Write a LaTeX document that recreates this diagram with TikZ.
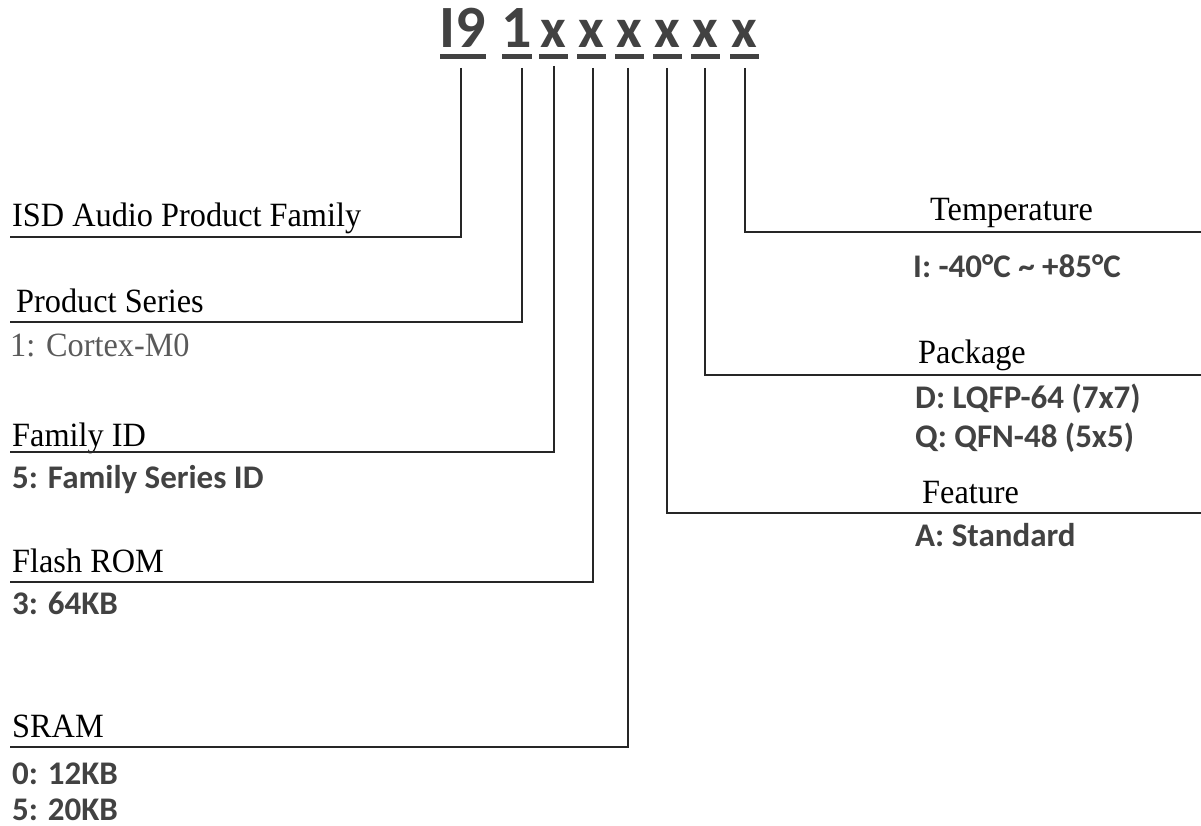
\documentclass[tikz,border=0pt]{standalone}
\usepackage{fontspec}
\setmainfont{Liberation Serif}
\newfontfamily\labfont[FakeStretch=0.95]{Liberation Serif}
\newfontfamily\calfont{Carlito}
\definecolor{tgray}{HTML}{424242}
\definecolor{lgray}{HTML}{5A5A5A}
\begin{document}
\begin{tikzpicture}[x=1pt,y=-1pt,
 lbl/.style={anchor=base west, inner sep=0, font=\labfont\fontsize{34}{38}\selectfont},
 val/.style={anchor=base west, inner sep=0, text=tgray, font=\calfont\bfseries\fontsize{33}{38}\selectfont},
 ttl/.style={anchor=base, inner sep=0, text=tgray, font=\calfont\bfseries\fontsize{60}{66}\selectfont},
 ttlx/.style={anchor=base, inner sep=0, text=tgray, font=\calfont\bfseries\fontsize{56}{60}\selectfont},
 uline/.style={fill=tgray},
 conn/.style={line width=1.3pt, draw=black!85}]
\useasboundingbox (0,0) rectangle (1201,826);
% title
\node[ttl] (t1) at (463,48) {I9};
\node[ttl] (t2) at (517,48) {1};
\node[ttlx] (t3) at (553,48) {x};
\node[ttlx] (t4) at (591,48) {x};
\node[ttlx] (t5) at (629.5,48) {x};
\node[ttlx] (t6) at (667,48) {x};
\node[ttlx] (t7) at (705.5,48) {x};
\node[ttlx] (t8) at (744,48) {x};
\fill[uline] (440,54) rectangle (486,59);
\fill[uline] (502,54) rectangle (532,59);
\foreach \c in {553,591,629.5,667,705.5,744}{\fill[uline] (\c-14.5,54) rectangle (\c+14.5,59);}
% left labels
\node[lbl] (isd) at (12,227) {ISD Audio Product Family};
\node[lbl] (ps) at (16,312) {Product Series};
\node[lbl, text=lgray] (psv) at (10,356) {1: Cortex-M0};
\node[lbl] (fid) at (12,446) {Family ID};
\node[val] (fidv) at (12,488) {5: Family Series ID};
\node[lbl] (fr) at (12,572) {Flash ROM};
\node[val] (frv) at (12,614) {3: 64KB};
\node[lbl] (sr) at (12,737) {SRAM};
\node[val] (srv1) at (12,784) {0: 12KB};
\node[val] (srv2) at (12,820) {5: 20KB};
% right labels
\node[lbl] (tp) at (930,221) {Temperature};
\node[val] (tpv) at (913,277) {I: -40°C \char`~{} +85°C};
\node[lbl] (pk) at (918,363) {Package};
\node[val] (pkv1) at (915,408) {D: LQFP-64 (7x7)};
\node[val] (pkv2) at (915,447) {Q: QFN-48 (5x5)};
\node[lbl] (ft) at (922,503) {Feature};
\node[val] (ftv) at (915,546) {A: Standard};
% connectors
\coordinate (v1) at (461,68);  \coordinate (h1) at (461,237); \coordinate (e1) at (10,237);
\coordinate (v2) at (522,68);  \coordinate (h2) at (522,322); \coordinate (e2) at (10,322);
\coordinate (v3) at (554,66);  \coordinate (h3) at (554,452); \coordinate (e3) at (10,452);
\coordinate (v4) at (593,68);  \coordinate (h4) at (593,582); \coordinate (e4) at (10,582);
\coordinate (v5) at (628,68);  \coordinate (h5) at (628,747); \coordinate (e5) at (10,747);
\coordinate (v6) at (667,68);  \coordinate (h6) at (667,513); \coordinate (e6) at (1201,513);
\coordinate (v7) at (705,68);  \coordinate (h7) at (705,375); \coordinate (e7) at (1201,375);
\coordinate (v8) at (745,68);  \coordinate (h8) at (745,232); \coordinate (e8) at (1201,232);
\foreach \i in {1,...,8}{\draw[conn] (v\i) -- (h\i) -- (e\i);}
\end{tikzpicture}
\end{document}
